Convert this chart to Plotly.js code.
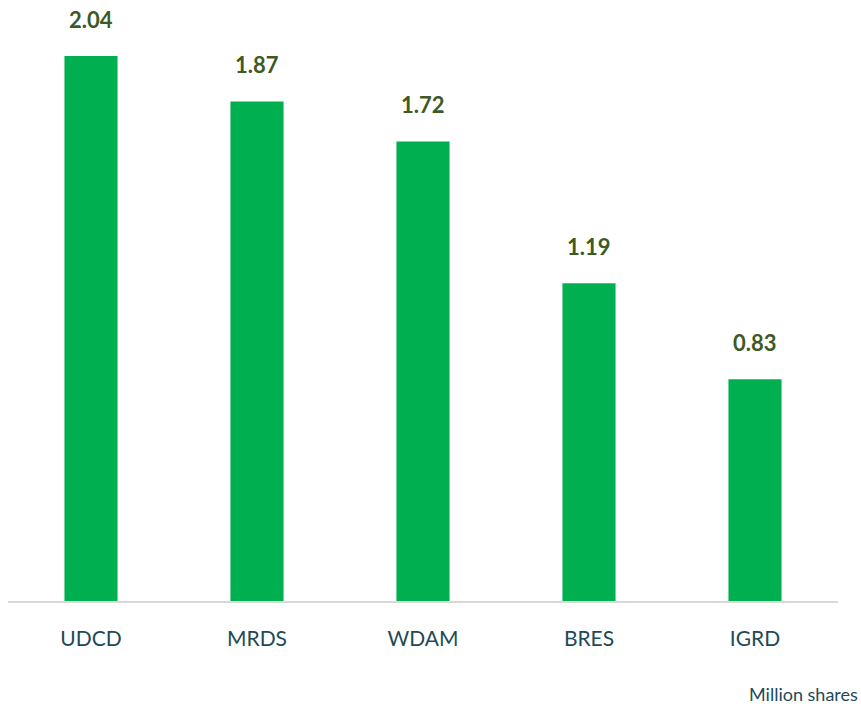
<!DOCTYPE html>
<html><head><meta charset="utf-8">
<script src="https://cdn.plot.ly/plotly-3.0.1.min.js"></script>
<style>html,body{margin:0;padding:0;background:#fff;}#chart{width:861px;height:707px;}</style>
</head><body><div id="chart"></div>
<script>
const categories = ["UDCD", "MRDS", "WDAM", "BRES", "IGRD"];
const values = [2.04, 1.87, 1.72, 1.19, 0.83];
const valueLabels = ["2.04", "1.87", "1.72", "1.19", "0.83"];

const trace = {
  type: "bar",
  x: categories,
  y: values,
  marker: {color: "#00b050"},
  hoverinfo: "none"
};

const valueAnnotations = categories.map((c, i) => ({
  x: c, y: values[i], xref: "x", yref: "y",
  text: "<b>" + valueLabels[i] + "</b>",
  showarrow: false, yanchor: "middle", yshift: 37,
  font: {family: "Lato, 'Open Sans', sans-serif", size: 22, color: "#3d5a24"}
}));

const layout = {
  width: 861, height: 707,
  margin: {l: 8, r: 23, t: 0, b: 106},
  paper_bgcolor: "#fff", plot_bgcolor: "#fff",
  bargap: 0.68,
  showlegend: false,
  xaxis: {
    showline: true, linecolor: "#d9d9d9", linewidth: 2,
    ticks: "", showgrid: false,
    tickfont: {family: "Lato, 'Open Sans', sans-serif", size: 21, color: "#1e4a57"},
    ticklabelstandoff: 18
  },
  yaxis: {range: [0, 2.25], visible: false, showgrid: false, zeroline: false},
  annotations: valueAnnotations.concat([{
    text: "Million shares", xref: "paper", yref: "paper", x: 1.027, y: -0.155,
    xanchor: "right", yanchor: "middle", showarrow: false,
    font: {family: "Lato, 'Open Sans', sans-serif", size: 18, color: "#1e4a57"}
  }])
};

Plotly.newPlot("chart", [trace], layout, {displayModeBar: false, staticPlot: true});
</script></body></html>
